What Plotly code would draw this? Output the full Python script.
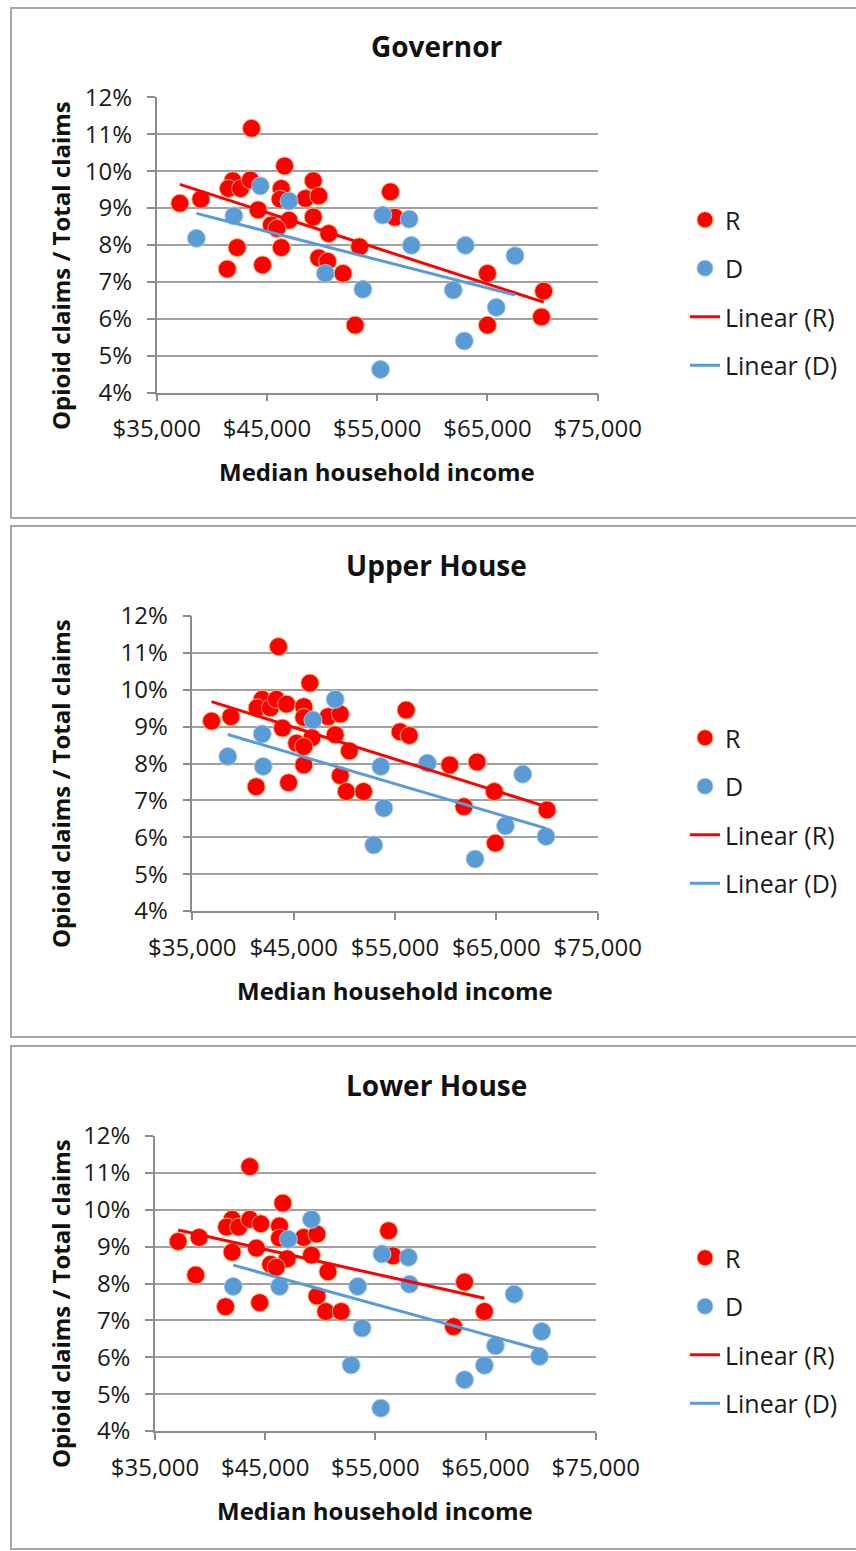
import numpy as np
import plotly.graph_objects as go

# ---- data (income in $, share in %) ----
gov_r_income = [37100, 39000, 43600, 46600, 41900, 41500, 42600, 43500, 46300, 46200,
                44200, 47000, 45400, 45900, 49200, 48500, 49700, 49200, 50600, 42300,
                46300, 41400, 44600, 49700, 50500, 51900, 53400, 53000, 56200, 56600,
                65000, 65000, 70100, 69900]
gov_r_share = [9.13, 9.24, 11.16, 10.14, 9.74, 9.53, 9.53, 9.76, 9.53, 9.24,
               8.95, 8.67, 8.54, 8.45, 9.74, 9.26, 9.33, 8.76, 8.31, 7.93,
               7.93, 7.35, 7.46, 7.65, 7.56, 7.23, 7.95, 5.83, 9.44, 8.75,
               7.23, 5.83, 6.75, 6.05]
gov_d_income = [38600, 42000, 44400, 47000, 50300, 53700, 55500, 57900, 58100, 63000,
                67500, 61900, 65800, 62900, 55300]
gov_d_share = [8.18, 8.79, 9.60, 9.19, 7.23, 6.80, 8.81, 8.70, 7.99, 7.99,
               7.71, 6.78, 6.31, 5.40, 4.63]

upper_r_income = [36900, 38800, 43500, 46600, 41900, 41400, 42700, 43300, 44300, 46000,
                  46000, 48400, 49600, 43900, 46800, 45300, 46000, 49100, 50500, 46000,
                  49600, 50200, 51900, 41300, 44500, 56100, 55500, 56400, 60400, 63100,
                  64800, 61800, 70000, 64900]
upper_r_share = [9.15, 9.27, 11.17, 10.18, 9.74, 9.51, 9.51, 9.74, 9.61, 9.54,
                 9.25, 9.27, 9.34, 8.96, 8.70, 8.55, 8.46, 8.78, 8.34, 7.96,
                 7.67, 7.24, 7.24, 7.37, 7.48, 9.45, 8.86, 8.76, 7.96, 8.04,
                 7.24, 6.83, 6.74, 5.84]
upper_d_income = [38500, 41900, 42000, 49100, 46900, 52900, 53600, 53900, 58200, 67600,
                  65900, 69900, 62900]
upper_d_share = [8.19, 8.80, 7.92, 9.74, 9.18, 5.79, 7.92, 6.79, 8.01, 7.71,
                 6.31, 6.02, 5.41]

lower_r_income = [37100, 39000, 38700, 43600, 46600, 42000, 41500, 42600, 43600, 44600,
                  46300, 46300, 48500, 49700, 42000, 44200, 47000, 45500, 46000, 49200,
                  50700, 49700, 50500, 51900, 41400, 44500, 56200, 56600, 63100, 64900,
                  62100]
lower_r_share = [9.14, 9.25, 8.23, 11.17, 10.18, 9.74, 9.53, 9.53, 9.74, 9.62,
                 9.56, 9.23, 9.25, 9.34, 8.85, 8.96, 8.67, 8.52, 8.44, 8.77,
                 8.32, 7.66, 7.24, 7.24, 7.37, 7.48, 9.43, 8.75, 8.04, 7.24,
                 6.83]
lower_d_income = [42100, 46300, 47100, 49200, 53400, 53800, 52800, 55600, 58000, 58100,
                  67600, 70100, 69900, 65900, 64900, 63100, 55500]
lower_d_share = [7.92, 7.92, 9.20, 9.74, 7.92, 6.79, 5.79, 8.80, 8.71, 7.98,
                 7.71, 6.70, 6.02, 6.31, 5.78, 5.39, 4.62]

panel_titles = ['Governor', 'Upper House', 'Lower House']
x_title = 'Median household income'
y_title = 'Opioid claims / Total claims'

W, H = 856, 1551
RED = '#ff0000'
BLUE = '#5b9bd5'
FONT = 'Open Sans'

panels = [
    dict(title=panel_titles[0], r=(gov_r_income, gov_r_share), d=(gov_d_income, gov_d_share),
         box=(156.7, 597.7, 97.3, 392.7), frame=(11, 8, 862, 518),
         title_y=46, ytitle_y=266, xtitle_y=471, legend_top=197),
    dict(title=panel_titles[1], r=(upper_r_income, upper_r_share), d=(upper_d_income, upper_d_share),
         box=(192.3, 597.7, 616, 911), frame=(11, 526, 862, 1037),
         title_y=565, ytitle_y=784, xtitle_y=990, legend_top=715),
    dict(title=panel_titles[2], r=(lower_r_income, lower_r_share), d=(lower_d_income, lower_d_share),
         box=(155, 595.7, 1136, 1431), frame=(11, 1046, 862, 1549),
         title_y=1085, ytitle_y=1304, xtitle_y=1510, legend_top=1235),
]


def px(x):
    return x / W


def py(y):
    return 1 - y / H


def trend(xs, ys):
    k, b = np.polyfit(xs, ys, 1)
    xx = np.array([min(xs), max(xs)])
    return xx, k * xx + b


fig = go.Figure()
layout = dict(width=W, height=H, margin=dict(l=0, r=0, t=0, b=0, autoexpand=False),
              paper_bgcolor='white', plot_bgcolor='white',
              font=dict(family=FONT, size=24, color='#1a1a1a'),
              annotations=[], shapes=[])

for i, p in enumerate(panels, start=1):
    sfx = '' if i == 1 else str(i)
    xa, ya = 'x' + sfx, 'y' + sfx
    leg = 'legend' + sfx
    x0, x1, y0, y1 = p['box']

    rx, ry = p['r']
    dx, dy = p['d']
    fig.add_trace(go.Scatter(x=rx, y=ry, mode='markers', name='R', xaxis=xa, yaxis=ya,
                             legend=leg, legendgroup=f'r{i}',
                             marker=dict(color=RED, size=18, line=dict(color='#f7b36b', width=1))))
    fig.add_trace(go.Scatter(x=dx, y=dy, mode='markers', name='D', xaxis=xa, yaxis=ya,
                             legend=leg, legendgroup=f'd{i}',
                             marker=dict(color=BLUE, size=18, line=dict(color='#a9c8e8', width=1))))
    tx, ty = trend(rx, ry)
    fig.add_trace(go.Scatter(x=tx, y=ty, mode='lines', name='Linear (R)', xaxis=xa, yaxis=ya,
                             legend=leg, legendgroup=f'lr{i}',
                             line=dict(color=RED, width=3)))
    tx, ty = trend(dx, dy)
    fig.add_trace(go.Scatter(x=tx, y=ty, mode='lines', name='Linear (D)', xaxis=xa, yaxis=ya,
                             legend=leg, legendgroup=f'ld{i}',
                             line=dict(color=BLUE, width=3)))

    layout['xaxis' + sfx] = dict(domain=[px(x0), px(x1)], anchor=ya, range=[35000, 75000],
                                 dtick=10000, tick0=35000, tickprefix='$', tickformat=',',
                                 showgrid=False, zeroline=False, showline=True,
                                 linecolor='#8c8c8c', linewidth=1.5,
                                 ticks='outside', ticklen=7, tickcolor='#8c8c8c', tickwidth=1.5,
                                 ticklabelstandoff=7, fixedrange=True)
    layout['yaxis' + sfx] = dict(domain=[py(y1), py(y0)], anchor=xa, range=[4, 12], dtick=1,
                                 ticksuffix='%', showgrid=True, gridcolor='#a0a0a0', gridwidth=1.5,
                                 zeroline=False, showline=True, linecolor='#8c8c8c', linewidth=1.5,
                                 ticks='outside', ticklen=8, tickcolor='#8c8c8c', tickwidth=1.5,
                                 ticklabelstandoff=10, fixedrange=True)
    layout[leg] = dict(x=px(685), xanchor='left', y=py(p['legend_top']), yanchor='top',
                       bgcolor='rgba(0,0,0,0)', borderwidth=0, tracegroupgap=13,
                       font=dict(family=FONT, size=25, color='#1a1a1a'))

    fx0, fy0, fx1, fy1 = p['frame']
    layout['shapes'].append(dict(type='rect', xref='paper', yref='paper',
                                 x0=px(fx0), x1=px(fx1), y0=py(fy1), y1=py(fy0),
                                 line=dict(color='#a6a6a6', width=2)))
    layout['annotations'] += [
        dict(text=f'<b>{p["title"]}</b>', x=px(437), y=py(p['title_y']), xref='paper', yref='paper',
             showarrow=False, xanchor='center', yanchor='middle',
             font=dict(family=FONT, size=28, color='#111')),
        dict(text=f'<b>{y_title}</b>', x=px(60), y=py(p['ytitle_y']), xref='paper', yref='paper',
             showarrow=False, textangle=-90, xanchor='center', yanchor='middle',
             font=dict(family=FONT, size=24, color='#111')),
        dict(text=f'<b>{x_title}</b>', x=px((x0 + x1) / 2), y=py(p['xtitle_y']), xref='paper',
             yref='paper', showarrow=False, xanchor='center', yanchor='middle',
             font=dict(family=FONT, size=24, color='#111')),
    ]

fig.update_layout(**layout)
# the page body has a default 8px margin; drop it so the figure sits at the top-left corner
fig.write_html("out.html", config={'displayModeBar': False},
               post_script="document.body.style.margin='0px';")
